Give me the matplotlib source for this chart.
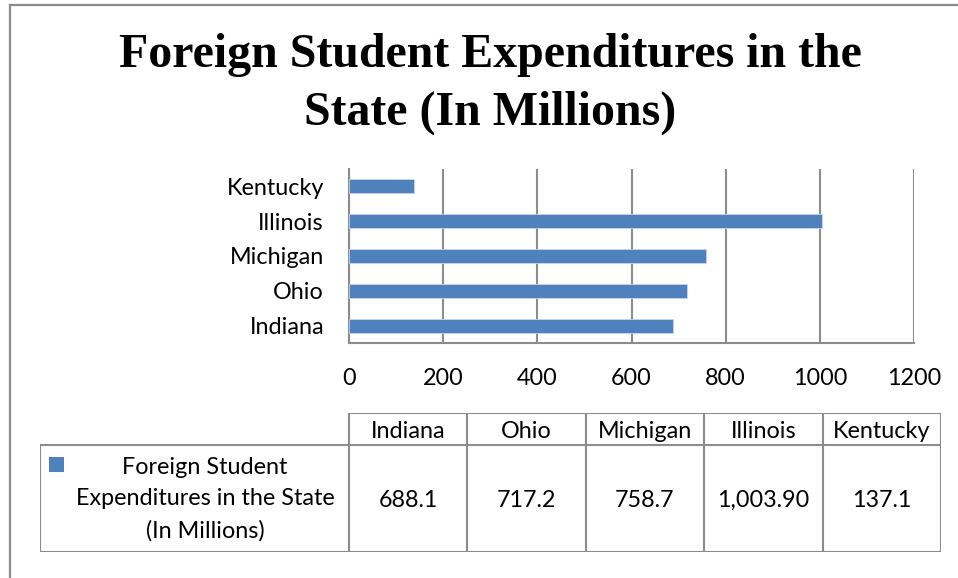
import matplotlib
matplotlib.use("Agg")
import matplotlib.pyplot as plt
from matplotlib.patches import Rectangle
from matplotlib.lines import Line2D

# --- data ---------------------------------------------------------------
states = ["Indiana", "Ohio", "Michigan", "Illinois", "Kentucky"]
spending = [688.1, 717.2, 758.7, 1003.9, 137.1]
value_labels = ["688.1", "717.2", "758.7", "1,003.90", "137.1"]
x_ticks = [0, 200, 400, 600, 800, 1000, 1200]
series_name = "Foreign Student\nExpenditures in the State\n(In Millions)"
title_lines = ["Foreign Student Expenditures in the", "State (In Millions)"]

# --- style --------------------------------------------------------------
W, H = 958, 578
BAR = "#4F81BD"
GRID = "#8C8C8C"
BODY_FONT = ["Lato", "DejaVu Sans"]
TITLE_FONT = ["Liberation Serif", "DejaVu Serif"]
BODY_SIZE = 16.8

fig = plt.figure(figsize=(W / 100, H / 100), dpi=100)
fig.patch.set_facecolor("white")


def box(left, top, right, bottom):
    """Pixel box (from top-left) -> figure fraction rect."""
    return [left / W, 1 - bottom / H, (right - left) / W, (bottom - top) / H]


# outer chart-area border (top and left edges visible)
fig.add_artist(Line2D([10 / W, 1.0], [1 - 5 / H, 1 - 5 / H], color=GRID,
                      lw=1.6, transform=fig.transFigure))
fig.add_artist(Line2D([10 / W, 10 / W], [1 - 5 / H, 0.0], color=GRID,
                      lw=1.6, transform=fig.transFigure))

# title
for i, line in enumerate(title_lines):
    fig.text(490 / W, 1 - (55 + 58 * i) / H, line, ha="center", va="center",
             family=TITLE_FONT, weight="bold", fontsize=34.5)

# --- bar chart ----------------------------------------------------------
ax = fig.add_axes(box(349, 169, 914, 343))
ypos = list(range(len(states)))
ax.barh(ypos, spending, height=0.4, color=BAR, edgecolor="#C9D6EA",
        linewidth=0.6, zorder=3)
ax.set_xlim(x_ticks[0], x_ticks[-1])
ax.set_ylim(-0.5, len(states) - 0.5)
ax.set_xticks(x_ticks)
ax.set_xticklabels([str(t) for t in x_ticks], family=BODY_FONT,
                   fontsize=BODY_SIZE)
ax.set_yticks(ypos)
ax.set_yticklabels(states, family=BODY_FONT, fontsize=BODY_SIZE)
ax.tick_params(axis="x", length=0, pad=18)
ax.tick_params(axis="y", length=0, pad=18)
ax.xaxis.grid(True, color=GRID, lw=1.5, zorder=1)
for side in ("top", "right"):
    ax.spines[side].set_visible(False)
for side in ("left", "bottom"):
    ax.spines[side].set_color(GRID)
    ax.spines[side].set_linewidth(1.5)
ax.set_facecolor("none")

# --- data table ---------------------------------------------------------
# column units: the row-label column spans -label_w..0, each state column 1
label_w = 309 / 118.4
tab = fig.add_axes(box(40, 413, 941, 552))
n = len(states)
head_h = 1.0
body_h = 106 / 32
tab.set_xlim(-label_w, n)
tab.set_ylim(0, head_h + body_h)
tab.axis("off")

line_kw = dict(color=GRID, lw=1.5, solid_capstyle="projecting")
top = head_h + body_h
# horizontal rules
tab.plot([0, n], [top, top], **line_kw)
tab.plot([-label_w, n], [body_h, body_h], **line_kw)
tab.plot([-label_w, n], [0, 0], **line_kw)
# vertical rules
tab.plot([-label_w, -label_w], [0, body_h], **line_kw)
for c in range(n + 1):
    tab.plot([c, c], [0, top], **line_kw)

for c, (name, lab) in enumerate(zip(states, value_labels)):
    tab.text(c + 0.5, body_h + head_h / 2, name, ha="center",
             va="center_baseline", family=BODY_FONT, fontsize=BODY_SIZE)
    tab.text(c + 0.5, body_h / 2, lab, ha="center", va="center_baseline",
             family=BODY_FONT, fontsize=BODY_SIZE)

# legend key and series name
tab.add_patch(Rectangle((-label_w + 9 / 118.4, body_h - 27 / 32), 15 / 118.4,
                        15 / 32, color=BAR, lw=0))
tab.text(-label_w / 2 + 0.09, body_h / 2 - 0.02, series_name,
         ha="center", va="center", family=BODY_FONT, fontsize=BODY_SIZE,
         linespacing=1.62)

fig.savefig("out.png", dpi=100, facecolor="white")
